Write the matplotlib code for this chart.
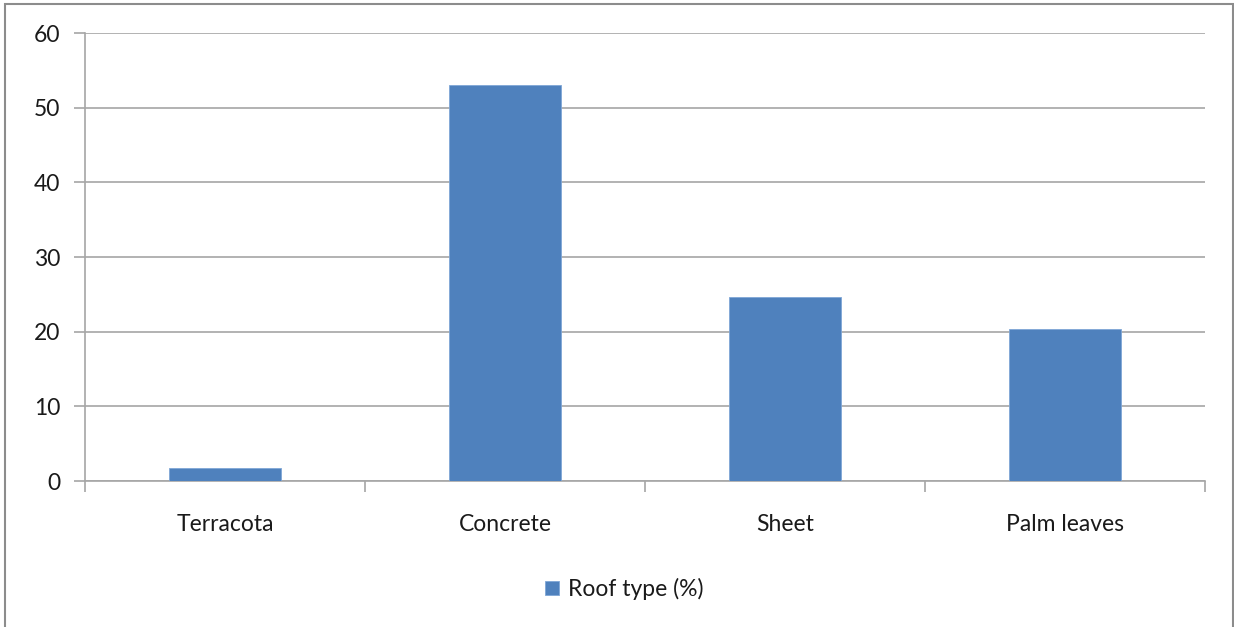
import matplotlib
matplotlib.use("Agg")
import matplotlib.pyplot as plt
from matplotlib.patches import Rectangle

categories = ["Terracota", "Concrete", "Sheet", "Palm leaves"]
values = [1.7, 53.0, 24.6, 20.4]
yticks = [0, 10, 20, 30, 40, 50, 60]
series_name = "Roof type (%)"

plt.rcParams['font.family'] = ['Lato', 'DejaVu Sans']

W, H = 1234, 627
fig = plt.figure(figsize=(W / 100, H / 100), dpi=100)
ax = fig.add_axes([85 / W, 1 - 481 / H, (1205 - 85) / W, (481 - 33) / H])

grid_c = "#a6a6a6"
bar_c = "#4f81bd"
text_c = "#1a1a1a"
fs = 16.5

x = list(range(len(categories)))
ax.bar(x, values, width=0.4, color=bar_c, edgecolor="#7fa6d6", linewidth=0.6,
       label=series_name, zorder=3)

ax.set_xlim(-0.5, len(categories) - 0.5)
ax.set_ylim(0, 60)
ax.set_yticks(yticks)
ax.set_yticklabels([str(v) for v in yticks], fontsize=fs, color=text_c)
ax.yaxis.grid(True, color=grid_c, linewidth=1.2, zorder=0)
ax.set_axisbelow(True)

# category labels centred between boundary ticks
ax.set_xticks([i - 0.5 for i in range(len(categories) + 1)])
ax.set_xticklabels([])
ax.set_xticks(x, minor=True)
ax.set_xticklabels(categories, minor=True, fontsize=fs, color=text_c)
ax.tick_params(axis="x", which="minor", length=0, pad=24)
ax.tick_params(axis="x", which="major", length=8, color=grid_c, width=1.2)
ax.tick_params(axis="y", length=8, color=grid_c, width=1.2, pad=10)

for side in ["top", "right"]:
    ax.spines[side].set_visible(False)
for side in ["left", "bottom"]:
    ax.spines[side].set_color(grid_c)
    ax.spines[side].set_linewidth(1.2)

leg = fig.legend(loc="center", bbox_to_anchor=(624 / W, 1 - 589 / H), frameon=False,
                 fontsize=fs, handlelength=0.6, handleheight=0.6, handletextpad=0.4)
for t in leg.get_texts():
    t.set_color(text_c)

# outer chart frame
fig.patches.append(Rectangle((5 / W, -0.05), (1233 - 5) / W, 1 - 4 / H + 0.05,
                             transform=fig.transFigure, fill=False,
                             edgecolor="#8c8c8c", linewidth=1.5))

fig.savefig("out.png", dpi=100)
